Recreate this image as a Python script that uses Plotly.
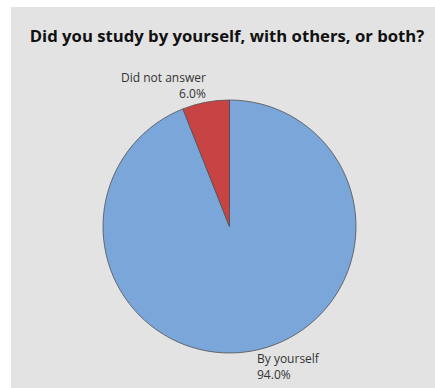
import plotly.graph_objects as go

labels = ["By yourself", "Did not answer"]
values = [94.0, 6.0]
colors = ["#7BA6DA", "#C84343"]

W, H = 435, 388
total = sum(values)
fig = go.Figure()
fig.add_trace(go.Pie(
    labels=labels, values=values, sort=False, direction="clockwise", rotation=0,
    marker=dict(colors=colors, line=dict(color="#505050", width=0.8)),
    textinfo="none",
    domain=dict(x=[103 / W, 356 / W], y=[1 - 353 / H, 1 - 100 / H]),
    showlegend=False, hoverinfo="label+percent",
))

# label placement (text only)
label_pos = {
    "By yourself": dict(x=255 / W, y=1 - 366 / H, xanchor="left", align="left"),
    "Did not answer": dict(x=208 / W, y=1 - 85 / H, xanchor="right", align="right"),
}
annotations = []
for lab, val in zip(labels, values):
    p = label_pos[lab]
    annotations.append(dict(
        text=f"{lab}<br>{val / total * 100:.1f}%", xref="paper", yref="paper",
        x=p["x"], y=p["y"], xanchor=p["xanchor"], yanchor="middle", align=p["align"],
        showarrow=False, font=dict(family="Open Sans", size=12, color="#333333"),
    ))

fig.update_layout(
    width=W, height=H, margin=dict(l=0, r=0, t=0, b=0),
    paper_bgcolor="white",
    annotations=annotations,
    shapes=[dict(type="rect", xref="paper", yref="paper", x0=11 / W, x1=1, y0=0, y1=1 - 7 / H,
                 fillcolor="#E3E3E3", line=dict(width=0), layer="below")],
    title=dict(text="<b>Did you study by yourself, with others, or both?</b>",
               x=227 / W, xanchor="center", y=1 - 36 / H, yanchor="middle",
               font=dict(family="Open Sans", size=16.7, color="#111111")),
)
fig.write_html("out.html")
